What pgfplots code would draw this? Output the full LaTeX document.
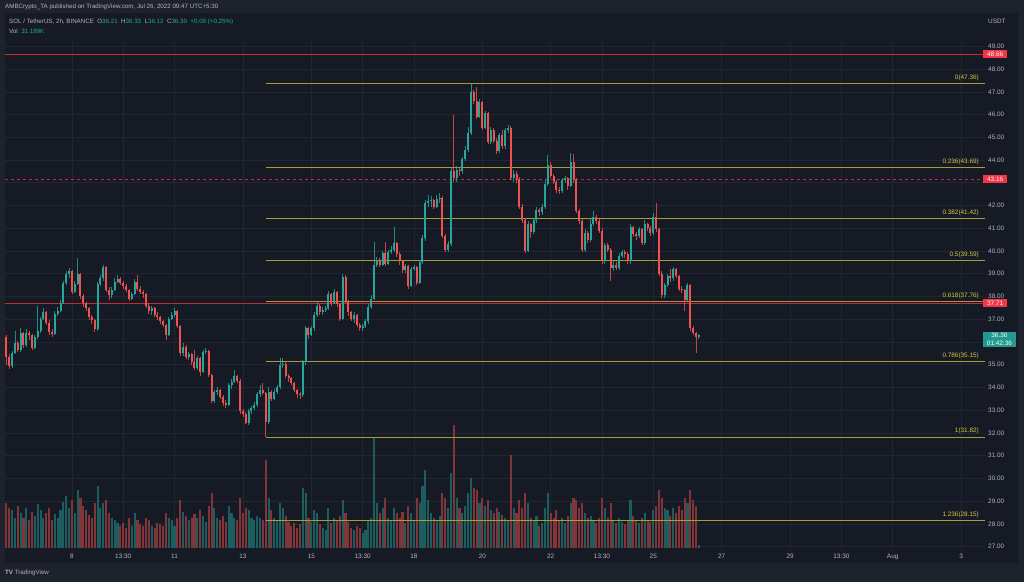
\documentclass[border=0pt]{standalone}
\usepackage{fontspec}
\setmainfont{Liberation Sans}
\usepackage{pgfplots}
\usepackage{pgfplotstable}
\pgfplotsset{compat=1.18}

\definecolor{frame}{HTML}{1E222D}
\definecolor{bg}{HTML}{161A25}
\definecolor{gridc}{HTML}{222633}
\definecolor{txt}{HTML}{B2B5BE}
\definecolor{upc}{HTML}{26A69A}
\definecolor{dnc}{HTML}{EF5350}
\definecolor{volup}{HTML}{1C5E5E}
\definecolor{voldn}{HTML}{813539}
\definecolor{redline}{HTML}{C22A37}
\definecolor{redbox}{HTML}{F23645}
\definecolor{upbox}{HTML}{22998E}
\definecolor{fibline}{HTML}{A89C3A}
\definecolor{fibtext}{HTML}{D4C441}

\newcommand\lbl{\fontsize{6.4}{7.5}\selectfont}
\newcommand\hdr{\fontsize{6.2}{7.2}\selectfont}

% i = candle index (2h candles), O H L C in USDT, V = volume in K
\pgfplotstableread{
i O H L C V
0 36.20 36.30 35.00 35.35 405
1 35.35 35.45 34.80 34.95 360
2 34.95 35.60 34.85 35.50 342
3 35.50 36.50 35.45 35.95 270
4 35.95 36.05 35.55 35.65 378
5 35.65 36.60 35.55 36.40 315
6 36.40 36.45 35.75 35.85 270
7 35.85 36.55 35.80 36.40 360
8 36.40 36.50 36.10 36.30 252
9 36.30 36.35 35.65 35.75 324
10 35.75 36.30 35.70 36.20 288
11 36.20 37.60 36.15 36.50 396
12 36.50 37.10 36.40 37.00 342
13 37.00 37.50 36.95 37.30 270
14 37.30 37.35 36.75 36.85 315
15 36.85 36.95 36.30 36.45 360
16 36.45 36.55 36.20 36.35 252
17 36.35 37.35 36.30 37.25 306
18 37.25 37.55 37.15 37.35 270
19 37.35 37.85 37.30 37.70 342
20 37.70 38.70 37.65 38.60 414
21 38.60 39.10 38.50 39.00 468
22 39.00 39.25 38.80 39.10 360
23 39.10 39.15 38.10 38.20 432
24 38.20 38.70 38.15 38.55 315
25 38.55 39.68 38.50 39.00 522
26 39.00 39.05 37.90 38.00 450
27 38.00 38.10 37.55 37.70 378
28 37.70 37.75 37.35 37.50 342
29 37.50 37.55 36.95 37.10 297
30 37.10 37.20 36.80 36.95 270
31 36.95 37.00 36.45 36.55 405
32 36.55 38.65 36.50 38.55 558
33 38.55 38.95 38.45 38.80 360
34 38.80 39.40 38.70 39.30 405
35 39.30 39.35 38.20 38.30 432
36 38.30 38.40 37.85 38.05 315
37 38.05 38.40 37.95 38.30 270
38 38.30 38.80 38.25 38.65 252
39 38.65 38.95 38.60 38.75 225
40 38.75 38.85 38.50 38.60 198
41 38.60 38.70 38.35 38.45 225
42 38.45 38.55 38.20 38.30 180
43 38.30 38.35 37.80 37.90 270
44 37.90 38.20 37.85 38.10 198
45 38.10 38.75 38.05 38.65 315
46 38.65 38.95 38.25 38.35 252
47 38.35 38.45 38.10 38.20 216
48 38.20 38.30 37.95 38.10 198
49 38.10 38.15 37.50 37.60 270
50 37.60 37.70 37.25 37.35 252
51 37.35 37.60 37.20 37.50 198
52 37.50 37.55 37.10 37.20 180
53 37.20 37.30 36.95 37.10 225
54 37.10 37.15 36.80 36.90 216
55 36.90 36.95 36.65 36.75 198
56 36.75 36.80 36.10 36.30 315
57 36.30 37.10 36.25 37.00 270
58 37.00 37.30 36.95 37.20 252
59 37.20 37.50 37.10 37.35 198
60 37.35 37.40 36.60 36.70 270
61 36.70 36.75 35.40 35.50 432
62 35.50 35.95 35.40 35.80 324
63 35.80 35.85 35.25 35.35 288
64 35.35 35.55 35.20 35.45 252
65 35.45 35.50 35.00 35.10 270
66 35.10 35.65 34.75 34.85 306
67 34.85 35.40 34.75 35.30 270
68 35.30 35.35 34.50 34.70 342
69 34.70 35.65 34.65 35.55 288
70 35.55 35.75 35.45 35.60 234
71 35.60 35.65 34.45 34.55 378
72 34.55 34.60 33.30 33.40 495
73 33.40 33.90 33.30 33.80 360
74 33.80 34.00 33.65 33.90 270
75 33.90 33.95 33.50 33.60 252
76 33.60 33.65 33.20 33.30 288
77 33.30 33.45 33.10 33.25 234
78 33.25 34.20 33.20 34.10 378
79 34.10 34.35 33.95 34.25 315
80 34.25 34.75 34.20 34.50 270
81 34.50 34.55 34.20 34.30 252
82 34.30 34.35 32.85 32.95 450
83 32.95 33.05 32.70 32.85 315
84 32.85 32.90 32.40 32.45 360
85 32.45 33.05 32.35 32.95 342
86 32.95 33.20 32.85 33.10 270
87 33.10 33.35 33.00 33.25 252
88 33.25 33.80 33.15 33.70 288
89 33.70 34.10 33.60 33.90 270
90 33.90 34.20 33.65 33.75 252
91 33.75 33.80 31.82 32.50 792
92 32.50 34.00 32.40 33.80 450
93 33.80 33.90 33.40 33.50 342
94 33.50 33.95 33.45 33.80 270
95 33.80 34.10 33.70 34.00 252
96 34.00 35.30 33.95 35.00 405
97 35.00 35.30 34.85 35.05 360
98 35.05 35.10 34.40 34.50 288
99 34.50 34.60 34.25 34.40 234
100 34.40 34.45 34.10 34.20 198
101 34.20 34.25 33.80 33.90 225
102 33.90 33.95 33.55 33.70 180
103 33.70 33.80 33.50 33.65 216
104 33.65 35.20 33.60 35.10 540
105 35.10 36.70 35.00 36.60 495
106 36.60 36.65 36.15 36.30 270
107 36.30 36.70 36.25 36.60 234
108 36.60 37.30 36.50 37.20 342
109 37.20 37.75 37.10 37.60 315
110 37.60 37.65 37.20 37.30 216
111 37.30 37.55 37.20 37.40 180
112 37.40 37.60 37.30 37.50 162
113 37.50 38.25 37.40 38.10 360
114 38.10 38.15 37.60 37.70 225
115 37.70 38.35 37.65 38.20 270
116 38.20 38.25 37.55 37.65 252
117 37.65 37.70 36.90 37.00 288
118 37.00 39.00 36.95 38.85 432
119 38.85 38.95 37.70 37.80 315
120 37.80 37.85 37.15 37.30 234
121 37.30 37.35 36.90 37.00 180
122 37.00 37.30 36.85 37.20 162
123 37.20 37.25 36.65 36.75 198
124 36.75 36.85 36.50 36.60 180
125 36.60 36.80 36.50 36.70 135
126 36.70 37.00 36.60 36.90 162
127 36.90 37.65 36.80 37.55 252
128 37.55 38.05 37.45 37.90 270
129 37.90 40.40 37.85 39.40 999
130 39.40 39.75 39.30 39.60 405
131 39.60 39.70 39.30 39.40 315
132 39.40 40.00 39.35 39.90 360
133 39.90 40.40 39.35 39.45 450
134 39.45 40.05 39.40 39.95 270
135 39.95 40.20 39.85 40.05 252
136 40.05 41.05 39.95 40.35 360
137 40.35 40.40 39.75 39.85 315
138 39.85 39.95 39.40 39.55 270
139 39.55 39.60 39.05 39.15 324
140 39.15 39.45 39.05 39.35 225
141 39.35 39.40 38.35 38.45 378
142 38.45 39.30 38.40 39.20 315
143 39.20 39.40 39.10 39.30 252
144 39.30 39.35 38.50 38.60 450
145 38.60 39.60 38.55 39.50 405
146 39.50 40.70 39.45 40.55 558
147 40.55 42.25 40.45 42.10 702
148 42.10 42.45 41.95 42.20 432
149 42.20 42.40 41.95 42.25 315
150 42.25 42.30 41.85 41.95 270
151 41.95 42.45 41.90 42.30 252
152 42.30 42.55 42.10 42.35 288
153 42.35 42.40 40.55 40.65 495
154 40.65 40.75 39.95 40.05 450
155 40.05 40.45 39.95 40.30 360
156 40.30 43.65 40.20 43.50 675
157 43.50 45.98 43.05 43.20 1107
158 43.20 43.75 43.05 43.55 450
159 43.55 43.70 43.30 43.50 360
160 43.50 44.15 43.40 44.05 315
161 44.05 44.60 43.95 44.45 378
162 44.45 45.45 44.35 45.20 495
163 45.20 47.36 45.10 47.00 630
164 47.00 47.10 46.45 46.60 540
165 46.60 47.20 45.80 45.90 522
166 45.90 46.70 45.85 46.55 405
167 46.55 46.60 45.30 45.40 450
168 45.40 46.15 45.35 46.05 378
169 46.05 46.10 44.70 44.80 432
170 44.80 45.45 44.70 45.30 342
171 45.30 45.40 44.75 44.85 315
172 44.85 44.95 44.25 44.40 360
173 44.40 45.20 44.30 45.10 324
174 45.10 45.30 44.50 44.60 297
175 44.60 45.40 44.50 45.30 270
176 45.30 45.55 45.20 45.40 252
177 45.40 45.50 43.10 43.20 837
178 43.20 43.55 43.05 43.40 360
179 43.40 43.50 43.00 43.15 315
180 43.15 43.25 41.85 41.95 432
181 41.95 42.05 41.25 41.35 360
182 41.35 41.45 39.90 40.00 495
183 40.00 41.30 39.95 41.20 405
184 41.20 41.25 40.55 40.85 270
185 40.85 41.45 40.75 41.35 252
186 41.35 41.95 41.25 41.80 288
187 41.80 41.90 41.55 41.70 198
188 41.70 42.05 41.60 41.95 225
189 41.95 43.10 41.85 42.95 360
190 42.95 44.20 42.85 43.80 495
191 43.80 43.90 43.20 43.30 315
192 43.30 43.40 42.95 43.05 270
193 43.05 43.10 42.55 42.70 342
194 42.70 42.80 42.50 42.65 252
195 42.65 43.20 42.55 43.10 270
196 43.10 43.30 43.00 43.20 225
197 43.20 43.25 42.70 42.85 288
198 42.85 44.30 42.80 43.90 405
199 43.90 44.25 43.00 43.10 450
200 43.10 43.20 41.65 41.75 432
201 41.75 41.85 41.20 41.30 360
202 41.30 41.40 39.95 40.05 405
203 40.05 40.95 39.95 40.80 315
204 40.80 40.90 40.35 40.50 270
205 40.50 41.45 40.40 41.20 288
206 41.20 41.75 41.10 41.50 252
207 41.50 41.60 41.20 41.30 225
208 41.30 41.40 40.80 40.90 270
209 40.90 41.00 39.45 39.55 450
210 39.55 40.35 39.45 40.25 360
211 40.25 40.35 39.95 40.05 270
212 40.05 40.15 38.70 39.25 405
213 39.25 39.55 39.10 39.40 252
214 39.40 39.50 39.15 39.25 225
215 39.25 39.90 39.15 39.80 270
216 39.80 40.05 39.70 39.95 234
217 39.95 40.05 39.70 39.85 216
218 39.85 39.95 39.45 39.55 252
219 39.55 41.20 39.45 41.05 432
220 41.05 41.10 40.60 40.75 288
221 40.75 40.85 40.50 40.65 252
222 40.65 41.05 40.55 40.95 225
223 40.95 41.00 40.25 40.35 270
224 40.35 41.35 40.25 41.20 315
225 41.20 41.25 40.90 41.00 252
226 41.00 41.10 40.65 40.80 234
227 40.80 41.65 40.70 41.50 342
228 41.50 42.10 40.85 40.95 378
229 40.95 41.00 38.90 39.00 522
230 39.00 39.10 37.95 38.05 450
231 38.05 38.60 37.95 38.50 360
232 38.50 39.00 38.40 38.90 342
233 38.90 39.20 38.65 38.80 288
234 38.80 39.30 38.70 39.20 360
235 39.20 39.25 38.80 38.90 315
236 38.90 38.95 38.25 38.35 378
237 38.35 38.45 38.15 38.30 342
238 38.30 38.35 37.35 37.85 450
239 37.85 38.60 37.80 38.50 405
240 38.50 38.55 36.50 36.60 522
241 36.60 36.70 36.30 36.40 432
242 36.40 36.45 35.52 36.21 378
243 36.21 36.33 36.12 36.30 31.189
}\candles

\pgfplotsset{
  pane/.style={at={(5pt,34pt)}, anchor=south west, scale only axis,
    width=980pt, height=506pt, xmin=-0.49, xmax=343.4},
  upf/.style={restrict expr to domain={\thisrow{C}-\thisrow{O}}{0:100}},
  dnf/.style={restrict expr to domain={\thisrow{C}-\thisrow{O}}{-100:-0.001}},
  bars/.style={draw=none, no markers, error bars/y dir=both,
    error bars/y explicit, error bars/error mark=none,
    error bars/error bar style={solid, #1}},
}

\begin{document}
\begin{tikzpicture}
\fill[frame] (0pt,0pt) rectangle (1024pt,582pt);
\fill[bg] (5pt,19pt) rectangle (1018pt,569pt);

% header
\node[anchor=west, inner sep=0pt, text=txt, font=\hdr] at (5pt,574.7pt)
  {AMBCrypto\_TA published on TradingView.com, Jul 26, 2022 09:47 UTC+5:30};
\node[anchor=west, inner sep=0pt, text=txt, font=\hdr] at (9pt,560pt)
  {SOL / TetherUS, 2h, BINANCE\ \ O\textcolor{upc}{36.21}\ \ H\textcolor{upc}{36.33}\ \ L\textcolor{upc}{36.12}\ \ C\textcolor{upc}{36.30}\ \ \textcolor{upc}{+0.09 (+0.25\%)}};
\node[anchor=west, inner sep=0pt, text=txt, font=\hdr] at (9pt,551pt)
  {Vol\ \ \textcolor{upc}{31.189K}};
\node[anchor=west, inner sep=0pt, text=txt, font=\lbl] at (988pt,560.3pt) {USDT};
\node[anchor=west, inner sep=0pt, text=txt, font=\hdr] at (5pt,9.3pt)
  {\textbf{TV}\ TradingView};

% grid and scales
\begin{scope}
\clip (0pt,19pt) rectangle (1024pt,582pt);
\begin{axis}[pane, ymin=26.94, ymax=49.19,
  axis line style={draw=none}, major tick length=0pt,
  grid=major, grid style={gridc, line width=0.6pt},
  xtick={23,41,59,83,107,125,143,167,191,209,227,251,275,293,311,335},
  xticklabels={8,13:30,11,13,15,13:30,18,20,22,13:30,25,27,29,13:30,Aug,3},
  ytick={27,28,...,49},
  yticklabels={27.00,28.00,29.00,30.00,31.00,32.00,33.00,34.00,35.00,,37.00,38.00,39.00,40.00,41.00,42.00,,44.00,45.00,46.00,47.00,48.00,49.00},
  yticklabel pos=right,
  tick label style={font=\lbl, text=txt},
  yticklabel style={anchor=west, inner sep=0pt, xshift=3pt},
  xticklabel style={anchor=north, inner sep=0pt, yshift=-5.5pt},
]
\end{axis}
\end{scope}

% volume
\begin{axis}[pane, ymin=0, ymax=4554, hide axis]
\addplot[ycomb, no markers, volup, line width=2.1pt, upf] table[x=i, y=V]{\candles};
\addplot[ycomb, no markers, voldn, line width=2.1pt, dnf] table[x=i, y=V]{\candles};
\end{axis}

% price
\begin{axis}[pane, ymin=26.94, ymax=49.19, hide axis, clip=false]
\addplot[redline, line width=1pt] coordinates {(-0.49,48.66) (343.4,48.66)};
\addplot[redline, line width=1pt, dash pattern=on 3pt off 3pt] coordinates {(-0.49,43.16) (343.4,43.16)};
\addplot[redline, line width=1pt] coordinates {(-0.49,37.71) (343.4,37.71)};
\addplot[fibline, line width=0.9pt] coordinates {(91,47.36) (343.4,47.36)};
\addplot[fibline, line width=0.9pt] coordinates {(91,43.69) (343.4,43.69)};
\addplot[fibline, line width=0.9pt] coordinates {(91,41.42) (343.4,41.42)};
\addplot[fibline, line width=0.9pt] coordinates {(91,39.59) (343.4,39.59)};
\addplot[fibline, line width=0.9pt] coordinates {(91,37.76) (343.4,37.76)};
\addplot[fibline, line width=0.9pt] coordinates {(91,35.15) (343.4,35.15)};
\addplot[fibline, line width=0.9pt] coordinates {(91,31.82) (343.4,31.82)};
\addplot[fibline, line width=0.9pt] coordinates {(91,28.15) (343.4,28.15)};

% wicks
\addplot[upf, bars={line width=0.8pt, draw=upc, opacity=0.8}]
  table[x=i, y=H, y error plus expr=0, y error minus expr=\thisrow{H}-\thisrow{L}]{\candles};
\addplot[dnf, bars={line width=0.8pt, draw=dnc, opacity=0.8}]
  table[x=i, y=H, y error plus expr=0, y error minus expr=\thisrow{H}-\thisrow{L}]{\candles};
% bodies
\addplot[upf, bars={line width=2pt, draw=upc}]
  table[x=i, y=O, y error plus expr=\thisrow{C}-\thisrow{O}, y error minus expr=0]{\candles};
\addplot[dnf, bars={line width=2pt, draw=dnc}]
  table[x=i, y=O, y error plus expr=0, y error minus expr=\thisrow{O}-\thisrow{C}]{\candles};

% fib labels
\foreach \lev/\val in {0/47.36, 0.236/43.69, 0.382/41.42, 0.5/39.59, 0.618/37.76, 0.786/35.15, 1/31.82, 1.236/28.15}{
  \edef\tmp{\noexpand\node[anchor=south east, inner sep=0pt, text=fibtext, font=\noexpand\lbl, xshift=-6pt, yshift=2.5pt] at (axis cs:343.4,\val) {\lev(\val)};}
  \tmp
}

% price boxes
\node[fill=redbox, text=white, anchor=west, minimum width=24.5pt, minimum height=8.5pt, inner sep=0pt, font=\lbl, xshift=-2.3pt] at (axis cs:343.4,48.66) {48.66};
\node[fill=redbox, text=white, anchor=west, minimum width=24.5pt, minimum height=8.5pt, inner sep=0pt, font=\lbl, xshift=-2.3pt] at (axis cs:343.4,43.16) {43.16};
\node[fill=redbox, text=white, anchor=west, minimum width=24.5pt, minimum height=8.5pt, inner sep=0pt, font=\lbl, xshift=-2.3pt] at (axis cs:343.4,37.71) {37.71};
\node[fill=upbox, text=white, anchor=north west, minimum width=33pt, inner xsep=0pt, inner ysep=1.6pt, align=center, font=\lbl, xshift=-2.3pt, yshift=3.8pt] at (axis cs:343.4,36.30) {36.30\\01:42:36};
\end{axis}
\end{tikzpicture}
\end{document}
